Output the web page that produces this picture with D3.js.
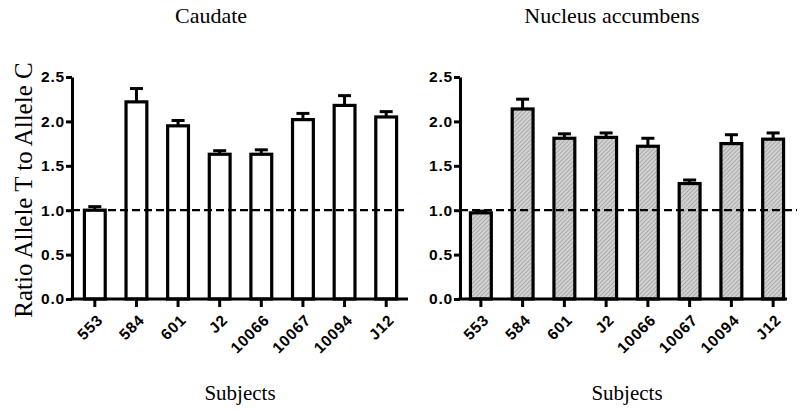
<!DOCTYPE html>
<html>
<head>
<meta charset="utf-8">
<script src="https://cdnjs.cloudflare.com/ajax/libs/d3/7.8.5/d3.min.js"></script>
<style>
  body { margin: 0; background: #fff; }
  svg { display: block; }
  .serif { font-family: "Liberation Serif", "Times New Roman", serif; fill: #000; }
</style>
</head>
<body>
<div id="chart"></div>
<script>
// subjects on the x axis (same for both panels)
var subjects = ["553", "584", "601", "J2", "10066", "10067", "10094", "J12"];

// Caudate: mean ratio and upper error (SEM)
var caudateMean = [1.00, 2.22, 1.95, 1.63, 1.63, 2.02, 2.18, 2.05];
var caudateErr  = [0.04, 0.15, 0.06, 0.04, 0.05, 0.07, 0.11, 0.06];

// Nucleus accumbens
var accumbensMean = [0.97, 2.14, 1.81, 1.82, 1.72, 1.30, 1.75, 1.80];
var accumbensErr  = [0.02, 0.11, 0.05, 0.05, 0.09, 0.04, 0.10, 0.07];

var yTicks = [0, 0.5, 1.0, 1.5, 2.0, 2.5];
var refLevel = 1.0;

var W = 800, H = 413;

var svg = d3.select("#chart").append("svg")
    .attr("width", W)
    .attr("height", H);

// hatch pattern for the accumbens bars
var pat = svg.append("defs").append("pattern")
    .attr("id", "hatch")
    .attr("patternUnits", "userSpaceOnUse")
    .attr("width", 3).attr("height", 3)
    .attr("patternTransform", "rotate(45)");
pat.append("rect").attr("width", 3).attr("height", 3).attr("fill", "#d2d2d2");
pat.append("line").attr("x1", 0).attr("y1", 0).attr("x2", 0).attr("y2", 3)
    .attr("stroke", "#999").attr("stroke-width", 1.4);

var y = d3.scaleLinear().domain([0, 2.5]).range([299, 77]);

function styleTicks(sel) {
    sel.selectAll(".tick text")
        .style("font-family", "'Liberation Sans', Arial, sans-serif")
        .style("font-weight", "bold")
        .style("font-size", "15.5px")
        .style("letter-spacing", "0.8px")
        .attr("fill", "#000");
    sel.selectAll(".tick line").attr("stroke-width", 3);
}

function drawPanel(opt) {
    var x = d3.scaleBand()
        .domain(subjects)
        .range(opt.band)
        .paddingInner(0.5)
        .paddingOuter(0.25);

    var g = svg.append("g");

    // title
    g.append("text")
        .attr("class", "serif")
        .attr("x", opt.titleX)
        .attr("y", 23)
        .attr("text-anchor", "middle")
        .style("font-size", "22px")
        .text(opt.title);

    // bars
    g.selectAll("rect.bar")
        .data(opt.mean)
        .enter().append("rect")
        .attr("class", "bar")
        .attr("x", function (d, i) { return x(subjects[i]); })
        .attr("width", x.bandwidth())
        .attr("y", function (d) { return y(d); })
        .attr("height", function (d) { return y(0) - y(d); })
        .attr("fill", opt.fill)
        .attr("stroke", "#000")
        .attr("stroke-width", 3.2);

    // error bars (upper only)
    var eb = g.selectAll("g.err")
        .data(opt.mean)
        .enter().append("g")
        .attr("class", "err")
        .attr("transform", function (d, i) {
            return "translate(" + (x(subjects[i]) + x.bandwidth() / 2) + ",0)";
        });
    eb.append("line")
        .attr("x1", 0).attr("x2", 0)
        .attr("y1", function (d) { return y(d); })
        .attr("y2", function (d, i) { return y(d + opt.err[i]); })
        .attr("stroke", "#000").attr("stroke-width", 3);
    eb.append("line")
        .attr("x1", -6.5).attr("x2", 6.5)
        .attr("y1", function (d, i) { return y(d + opt.err[i]); })
        .attr("y2", function (d, i) { return y(d + opt.err[i]); })
        .attr("stroke", "#000").attr("stroke-width", 3);

    // dashed reference line at 1.0
    g.append("line")
        .attr("x1", opt.axisX[0]).attr("x2", opt.dashEnd)
        .attr("y1", y(refLevel)).attr("y2", y(refLevel))
        .attr("stroke", "#000")
        .attr("stroke-width", 2.2)
        .attr("stroke-dasharray", "8,4");

    // y axis
    var ya = g.append("g")
        .attr("transform", "translate(" + opt.axisX[0] + ",0)")
        .call(d3.axisLeft(y).tickValues(yTicks).tickFormat(d3.format(".1f")).tickSize(6).tickSizeOuter(0).tickPadding(1));
    ya.select(".domain").attr("stroke-width", 3);
    styleTicks(ya);

    // x axis
    var xa = g.append("g")
        .attr("transform", "translate(0," + y(0) + ")")
        .call(d3.axisBottom(x).tickSize(8).tickSizeOuter(0));
    xa.select(".domain").remove();
    xa.append("line")
        .attr("x1", opt.axisX[0] - 1.5).attr("x2", opt.axisX[1])
        .attr("stroke", "#000").attr("stroke-width", 3);
    styleTicks(xa);
    xa.selectAll(".tick text")
        .attr("text-anchor", "end")
        .attr("dy", null)
        .attr("transform", "translate(9,22) rotate(-45)")
        .attr("x", 0).attr("y", 0);

    // x axis title
    g.append("text")
        .attr("class", "serif")
        .attr("x", opt.subjX)
        .attr("y", 400)
        .attr("text-anchor", "middle")
        .style("font-size", "21px")
        .text("Subjects");
}

drawPanel({
    title: "Caudate", titleX: 211,
    mean: caudateMean, err: caudateErr,
    band: [74, 407], axisX: [72, 408], dashEnd: 408,
    fill: "#fff", subjX: 240
});

drawPanel({
    title: "Nucleus accumbens", titleX: 612,
    mean: accumbensMean, err: accumbensErr,
    band: [460, 794], axisX: [460, 787], dashEnd: 797,
    fill: "url(#hatch)", subjX: 627
});

// shared y axis title
svg.append("text")
    .attr("class", "serif")
    .attr("transform", "translate(32,190) rotate(-90)")
    .attr("text-anchor", "middle")
    .style("font-size", "25px")
    .text("Ratio Allele T to Allele C");
</script>
</body>
</html>
